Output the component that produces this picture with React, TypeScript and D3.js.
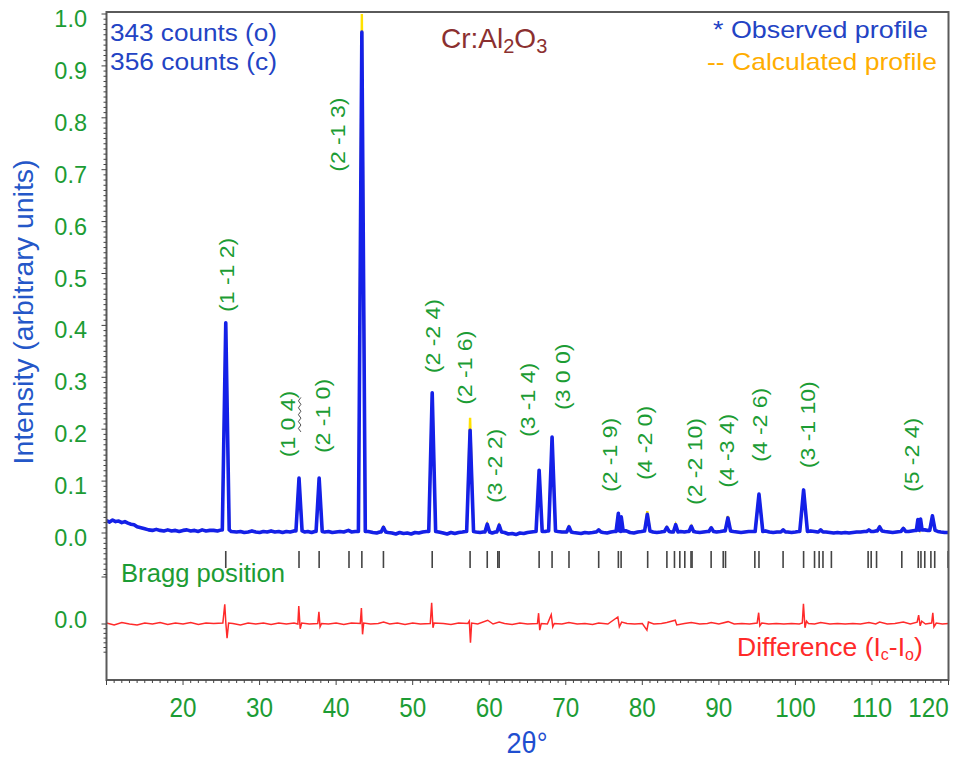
import React from "react";
import * as d3 from "d3";

const W = 954;
const H = 759;
const FONT = "'Liberation Sans', Arial, sans-serif";

const peakPos = [25.58, 35.15, 37.78, 43.36, 46.18, 52.55, 57.5, 59.74, 61.3, 66.52, 68.21, 70.42, 74.3, 76.87, 77.25, 80.65, 83.2, 84.36, 86.4, 89.0, 91.18, 95.24, 98.4, 101.07, 103.3, 109.6, 111.0, 114.1, 116.0, 116.35, 117.9];
const peakObs = [0.405, 0.106, 0.106, 0.965, 0.011, 0.27, 0.198, 0.017, 0.015, 0.121, 0.185, 0.012, 0.006, 0.038, 0.031, 0.036, 0.011, 0.016, 0.013, 0.01, 0.029, 0.075, 0.006, 0.083, 0.006, 0.006, 0.012, 0.009, 0.026, 0.027, 0.033];
const peakCalc = [0.405, 0.106, 0.106, 1.0, 0.011, 0.27, 0.222, 0.017, 0.015, 0.121, 0.185, 0.012, 0.006, 0.04, 0.031, 0.042, 0.011, 0.016, 0.013, 0.01, 0.033, 0.075, 0.006, 0.083, 0.006, 0.006, 0.012, 0.009, 0.026, 0.027, 0.033];
const peakHalf = [0.45, 0.4, 0.4, 0.45, 0.3, 0.45, 0.45, 0.3, 0.3, 0.4, 0.45, 0.3, 0.3, 0.3, 0.25, 0.35, 0.3, 0.3, 0.3, 0.3, 0.35, 0.5, 0.3, 0.5, 0.3, 0.3, 0.3, 0.3, 0.2, 0.2, 0.35];

// background of the observed profile [2θ, I]
const background: [number, number][] = [
  [10.0, 0.024], [10.4, 0.021], [10.8, 0.025], [11.2, 0.022], [11.6, 0.023], [12.0, 0.02], [12.4, 0.022], [12.8, 0.019],
  [13.2, 0.017], [13.6, 0.016], [14.0, 0.012], [14.5, 0.01], [15.0, 0.008], [15.5, 0.006], [16.0, 0.005], [16.5, 0.007],
  [17.0, 0.005], [17.5, 0.004], [18.0, 0.006], [18.5, 0.004], [19.0, 0.005], [19.5, 0.003], [20.0, 0.005], [20.5, 0.006],
  [21.0, 0.004], [21.5, 0.005], [22.0, 0.003], [22.5, 0.006], [23.0, 0.004], [23.5, 0.005], [24.0, 0.005], [24.5, 0.004],
  [25.0, 0.006], [26.3, 0.003], [27.0, 0.002], [27.5, 0.003], [28.0, 0.001], [28.5, 0.002], [29.0, 0.004], [29.5, 0.002],
  [30.0, 0.001], [30.5, 0.003], [31.0, 0.002], [31.5, 0.004], [32.0, 0.002], [32.5, 0.003], [33.0, 0.001], [33.5, 0.003],
  [34.0, 0.002], [34.5, 0.004], [35.9, 0.002], [36.3, 0.003], [36.8, 0.001], [37.2, 0.003], [38.5, 0.002], [39.0, 0.003],
  [39.5, 0.001], [40.0, 0.002], [40.5, 0.003], [41.0, 0.002], [41.6, 0.005], [42.0, 0.002], [42.5, 0.003], [44.2, 0.003],
  [44.8, 0.001], [45.3, 0.0], [45.7, 0.002], [46.8, 0.001], [47.3, 0.0], [47.8, -0.002], [48.3, 0.001], [48.8, -0.001],
  [49.3, 0.0], [49.8, -0.002], [50.3, 0.001], [50.8, 0.0], [51.3, 0.002], [51.8, 0.003], [53.4, 0.002], [54.0, 0.0],
  [54.5, -0.002], [55.0, 0.001], [55.5, -0.001], [56.0, 0.001], [56.5, 0.002], [56.9, 0.003], [58.3, 0.002], [58.8, 0.001],
  [59.2, 0.002], [60.4, 0.0], [60.8, 0.002], [62.0, 0.001], [62.5, -0.002], [63.0, -0.001], [63.5, -0.003], [64.0, 0.0],
  [64.5, -0.001], [65.0, 0.001], [65.5, 0.002], [66.0, 0.003], [67.3, 0.003], [67.6, 0.004], [69.0, 0.003], [69.5, 0.002],
  [70.0, 0.002], [71.0, 0.001], [71.5, 0.0], [72.0, -0.001], [72.5, 0.001], [73.0, 0.0], [73.5, 0.001], [73.9, 0.002],
  [74.9, 0.001], [75.4, 0.0], [75.9, 0.002], [76.3, 0.003], [77.9, 0.004], [78.4, 0.001], [78.9, 0.0], [79.4, 0.002],
  [79.9, 0.003], [80.2, 0.004], [81.4, 0.002], [81.9, 0.001], [82.4, 0.002], [82.8, 0.003], [83.8, 0.002], [85.0, 0.003],
  [85.5, 0.002], [85.9, 0.003], [87.0, 0.002], [87.5, 0.001], [88.0, 0.002], [88.5, 0.003], [89.7, 0.002], [90.2, 0.003],
  [90.6, 0.004], [91.9, 0.003], [92.4, 0.002], [92.9, 0.001], [93.4, 0.002], [93.9, 0.003], [94.4, 0.003], [96.1, 0.004],
  [96.6, 0.002], [97.1, 0.001], [97.6, 0.002], [98.0, 0.002], [99.0, 0.002], [99.5, 0.001], [100.0, 0.002], [100.4, 0.003],
  [102.0, 0.004], [102.5, 0.003], [102.9, 0.002], [104.0, 0.002], [104.5, 0.001], [105.0, 0.0], [105.5, 0.001], [106.0, 0.0],
  [106.5, 0.001], [107.0, 0.0], [107.5, 0.001], [108.0, 0.002], [108.5, 0.002], [109.0, 0.003], [110.2, 0.003], [110.5, 0.004],
  [111.7, 0.003], [112.2, 0.002], [112.7, 0.001], [113.2, 0.002], [113.7, 0.003], [114.8, 0.003], [115.2, 0.004], [115.6, 0.005],
  [116.9, 0.006], [117.3, 0.005], [118.6, 0.003], [119.0, 0.002], [119.5, 0.001], [120.0, 0.001],
];

// difference Ic - Io [2θ, ΔI]
const difference: [number, number][] = [
  [10, 0.002], [11, -0.002], [12, 0.003], [13, 0], [14, -0.002], [15, 0.002], [16, 0], [17, 0.003], [18, -0.001], [19, 0.002],
  [20, 0], [21, 0.003], [22, -0.001], [23, 0.002], [24, 0.001], [25.2, 0.002], [25.45, 0.042], [25.6, 0.0], [25.75, -0.03],
  [25.95, 0.002], [26.5, 0.001], [27.5, -0.002], [28.5, 0.002], [29.5, 0], [30.5, 0.002], [31.5, -0.001], [32.5, 0.002],
  [33.5, 0.0], [34.5, 0.002], [35.0, 0.0], [35.12, 0.038], [35.3, -0.01], [35.5, 0.002], [36.5, 0.0], [37.6, 0.001],
  [37.75, 0.026], [37.9, -0.006], [38.1, 0.001], [39, 0.0], [40, 0.002], [41, -0.001], [42, 0.002], [43.15, 0.001],
  [43.3, 0.034], [43.45, -0.022], [43.6, 0.002], [44.5, 0.0], [45.5, 0.001], [46.2, 0.004], [47, 0.0], [48, 0.002],
  [49, -0.001], [50, 0.002], [51, 0.0], [52.3, 0.001], [52.48, 0.045], [52.65, -0.008], [52.8, 0.002], [54, 0.001],
  [55, -0.001], [56, 0.002], [57.2, 0.001], [57.4, 0.006], [57.55, -0.04], [57.7, 0.002], [58.5, 0.0], [59.8, 0.008],
  [60.5, 0.0], [61.3, 0.004], [62, 0.001], [63, -0.001], [64, 0.002], [65, 0.0], [66.3, 0.001], [66.45, 0.023],
  [66.6, -0.013], [66.8, 0.001], [67.6, 0.0], [68.1, 0.02], [68.3, -0.006], [68.5, 0.001], [69.5, 0.0], [70.4, 0.003],
  [71.5, 0.0], [72.5, 0.001], [73.5, -0.001], [74.3, 0.002], [75.5, 0.0], [76.8, 0.015], [77.0, -0.006], [77.3, 0.004],
  [78, 0.001], [79, 0.0], [80, 0.001], [80.6, -0.013], [80.8, 0.004], [81.5, 0.0], [82.5, 0.001], [83.2, 0.003],
  [84.3, 0.008], [84.5, -0.002], [85.5, 0.001], [86.4, 0.003], [87.5, 0.0], [88.5, 0.001], [89.0, 0.003], [90, 0.0],
  [91.2, 0.005], [92, 0.0], [93, 0.001], [94, 0.0], [95.0, 0.002], [95.2, 0.024], [95.35, -0.004], [95.6, 0.002],
  [96.5, 0.0], [97.5, 0.001], [98.5, 0.0], [99.5, 0.001], [100.5, 0.0], [100.9, 0.002], [101.05, 0.043], [101.25, -0.008],
  [101.45, 0.006], [101.7, 0.001], [102.5, 0.0], [103.3, 0.003], [104.5, 0.0], [105.5, 0.001], [106.5, 0.0], [107.5, 0.001],
  [108.5, 0.0], [109.6, 0.003], [110.5, 0.0], [111.0, 0.004], [112, 0.0], [113, 0.001], [114.1, 0.004], [115, 0.0],
  [115.9, 0.004], [116.1, 0.019], [116.3, -0.004], [116.5, 0.006], [117, 0.0], [117.8, 0.002], [117.95, 0.024],
  [118.1, -0.006], [118.4, 0.002], [119.2, 0.0], [120, 0.001],
];

const braggPos = [25.58, 35.15, 37.78, 41.68, 43.36, 46.18, 52.55, 57.5, 59.74, 61.12, 61.3, 66.52, 68.21, 70.42, 74.3, 76.87, 77.23, 80.7, 83.21, 84.2, 84.9, 85.55, 86.36, 86.5, 88.99, 90.57, 90.87, 94.7, 95.24, 98.39, 101.07, 102.5, 103.1, 103.6, 104.7, 109.5, 109.9, 110.6, 113.9, 116.05, 116.4, 116.9, 117.7, 118.2, 119.95];

// Miller index labels: text, 2θ of label centre, intensity where label starts
const hklText = ["(1 -1 2)", "(1 0 4)", "(2 -1 0)", "(2 -1 3)", "(2 -2 4)", "(2 -1 6)", "(3 -2 2)", "(3 -1 4)", "(3 0 0)", "(2 -1 9)", "(4 -2 0)", "(2 -2 10)", "(4 -3 4)", "(4 -2 6)", "(3 -1 10)", "(5 -2 4)"];
const hklPos = [25.74, 33.7, 38.28, 40.24, 52.65, 56.83, 60.75, 65.06, 69.63, 75.77, 80.35, 86.88, 91.06, 95.37, 101.6, 115.3];
const hklLift = [0.426, 0.146, 0.154, 0.696, 0.308, 0.247, 0.058, 0.185, 0.237, 0.079, 0.102, 0.054, 0.087, 0.137, 0.125, 0.079];

const xTicks = [20, 30, 40, 50, 60, 70, 80, 90, 100, 110, 120];
const yTicks = [0, 0.1, 0.2, 0.3, 0.4, 0.5, 0.6, 0.7, 0.8, 0.9, 1.0];

const GREEN = "#1c9c34";

function buildProfile(heights: number[]): [number, number][] {
  const pts: [number, number][] = background.filter(([t]) =>
    peakPos.every((c, i) => Math.abs(t - c) >= peakHalf[i])
  );
  peakPos.forEach((c, i) => {
    const near = d3.least(background, (b) => Math.abs(b[0] - c))!;
    pts.push([c - peakHalf[i], near[1]], [c, heights[i]], [c + peakHalf[i], near[1]]);
  });
  return pts.sort((a, b) => a[0] - b[0]);
}

export default function App() {
  const left = 106.5, right = 948.5, top = 12, bottom = 680;
  const x = d3.scaleLinear().domain([10, 120]).range([left, right]);
  const y = d3.scaleLinear().domain([0, 1]).range([533, 14]);
  const yd = d3.scaleLinear().domain([0, 0.1]).range([624, 577]);

  const line = d3.line<[number, number]>().x((d) => x(d[0])).y((d) => y(d[1]));
  const dline = d3.line<[number, number]>().x((d) => x(d[0])).y((d) => yd(d[1]));

  const obs = buildProfile(peakObs);
  const calc = buildProfile(peakCalc);

  const xMinor = d3.range(10, 121, 1);
  const yMinor = d3.range(-8, 101).map((v) => v / 100);
  const ydMinor = d3.range(-6, 1).map((v) => v / 100);

  return (
    <svg width={W} height={H} style={{ position: "absolute", left: 0, top: 0 }} fontFamily={FONT}>
      <rect width={W} height={H} fill="#fff" />
      <defs>
        <clipPath id="plot">
          <rect x={left} y={top} width={right - left} height={bottom - top} />
        </clipPath>
      </defs>

      {/* profiles */}
      <g clipPath="url(#plot)">
        <path d={line(calc)!} fill="none" stroke="#ffe100" strokeWidth={2.4} />
        <path d={line(obs)!} fill="none" stroke="#1420e8" strokeWidth={3.6} strokeLinejoin="round" />
        <path d={dline(difference)!} fill="none" stroke="#ff2a2a" strokeWidth={1.5} />
        {braggPos.map((b, i) => (
          <line key={i} x1={x(b)} x2={x(b)} y1={551} y2={568} stroke="#444" strokeWidth={1.6} />
        ))}
      </g>

      {/* frame */}
      <rect x={left} y={top} width={right - left} height={bottom - top} fill="none" stroke="#5a5a5a" strokeWidth={2} />

      {/* bottom axis */}
      {xMinor.map((v) => (
        <line key={v} x1={x(v)} x2={x(v)} y1={bottom} y2={bottom + (v % 10 === 0 ? 5 : 3)} stroke="#444" strokeWidth={1} />
      ))}
      {xTicks.map((v) => (
        <text key={v} x={Math.min(x(v), right - 20)} y={717} fontSize={28} fill={GREEN} textAnchor="middle"
          textLength={String(v).length * 13.5} lengthAdjust="spacingAndGlyphs">{v}</text>
      ))}
      <text x={527} y={753} fontSize={29} fill="#1f4fd0" textAnchor="middle" textLength={41} lengthAdjust="spacingAndGlyphs">2θ°</text>

      {/* left axis */}
      {yMinor.map((v, i) => (
        <line key={"m" + i} x1={left - (Math.round(v * 100) % 10 === 0 && v >= 0 ? 5 : 3)} x2={left} y1={y(v)} y2={y(v)} stroke="#444" strokeWidth={1} />
      ))}
      {ydMinor.map((v, i) => (
        <line key={"d" + i} x1={left - (v === 0 ? 5 : 3)} x2={left} y1={yd(v)} y2={yd(v)} stroke="#444" strokeWidth={1} />
      ))}
      <line x1={left - 5} x2={left} y1={yd(0.1)} y2={yd(0.1)} stroke="#444" strokeWidth={1} />
      {yTicks.map((v) => (
        <text key={v} x={87} y={y(v) + 13} fontSize={23.5} fill={GREEN} textAnchor="end">{d3.format(".1f")(v)}</text>
      ))}
      <text x={87} y={yd(0) + 4} fontSize={23.5} fill={GREEN} textAnchor="end">0.0</text>
      <text transform="translate(33,312) rotate(-90)" fontSize={28} fill="#2457c8" textAnchor="middle"
        textLength={305} lengthAdjust="spacingAndGlyphs">Intensity (arbitrary units)</text>

      {/* hkl labels */}
      {hklText.map((t, i) => (
        <g key={t} transform={`translate(${x(hklPos[i])},${y(hklLift[i])}) rotate(-90) scale(1.15,1)`}>
          <text x={0} y={0} fontSize={20} fill={GREEN} dominantBaseline="central">{t}</text>
          {t === "(1 0 4)" && (
            <path
              d={d3.range(0, 11).map((k) => `${k === 0 ? "M" : "L"}${22 + k * 3},${k % 2 ? 10.5 : 13}`).join("")}
              fill="none" stroke="#333" strokeWidth={0.8}
            />
          )}
        </g>
      ))}

      {/* annotations */}
      <text x={110} y={41} fontSize={23.5} fill="#2343c4" textLength={167} lengthAdjust="spacingAndGlyphs">343 counts (o)</text>
      <text x={110} y={70} fontSize={23.5} fill="#2343c4" textLength={167} lengthAdjust="spacingAndGlyphs">356 counts (c)</text>
      <text x={441} y={48} fontSize={28} fill="#8b3030">
        Cr:Al<tspan fontSize={20} dy={5}>2</tspan><tspan dy={-5}>O</tspan><tspan fontSize={20} dy={5}>3</tspan>
      </text>
      <text x={928} y={38} fontSize={24} fill="#2343c4" textAnchor="end" textLength={215} lengthAdjust="spacingAndGlyphs">* Observed profile</text>
      <text x={937} y={70} fontSize={24} fill="#ffad00" textAnchor="end" textLength={230} lengthAdjust="spacingAndGlyphs">-- Calculated profile</text>
      <text x={121} y={582} fontSize={26} fill={GREEN} textLength={164} lengthAdjust="spacingAndGlyphs">Bragg position</text>
      <text x={737} y={656} fontSize={26.5} fill="#ff2a2a">
        Difference (I<tspan fontSize={16} dy={4}>c</tspan><tspan dy={-4}>-I</tspan><tspan fontSize={16} dy={4}>o</tspan><tspan dy={-4}>)</tspan>
      </text>
    </svg>
  );
}
